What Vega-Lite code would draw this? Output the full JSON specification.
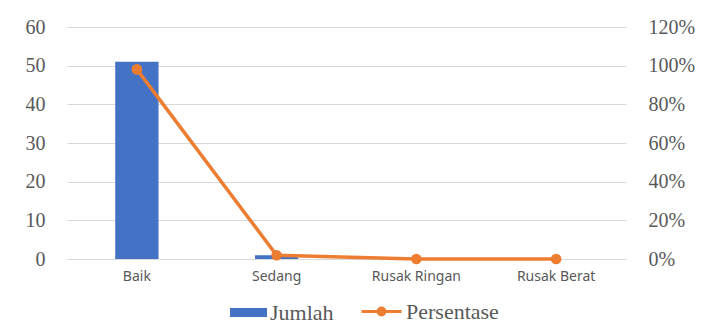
{
  "$schema": "https://vega.github.io/schema/vega-lite/v6.json",
  "width": 559,
  "height": 232,
  "autosize": "none",
  "padding": {"left": 67, "top": 27, "right": 76, "bottom": 77},
  "background": "white",
  "config": {"view": {"stroke": null}},
  "data": {
    "values": [
      {"Kondisi": "Baik", "Jumlah": 51, "Persentase": 0.9808},
      {"Kondisi": "Sedang", "Jumlah": 1, "Persentase": 0.0192},
      {"Kondisi": "Rusak Ringan", "Jumlah": 0, "Persentase": 0},
      {"Kondisi": "Rusak Berat", "Jumlah": 0, "Persentase": 0}
    ]
  },
  "encoding": {
    "x": {
      "field": "Kondisi",
      "type": "nominal",
      "sort": null,
      "title": null,
      "scale": {"paddingInner": 0.69, "paddingOuter": 0.345},
      "axis": {
        "labelAngle": 0,
        "domain": false,
        "ticks": false,
        "labelFont": "Noto Sans",
        "labelFontSize": 14,
        "labelColor": "#595959",
        "labelPadding": 10
      }
    }
  },
  "layer": [
    {
      "mark": {"type": "bar"},
      "encoding": {
        "y": {
          "field": "Jumlah",
          "type": "quantitative",
          "title": null,
          "scale": {"domain": [0, 60]},
          "axis": {
            "values": [0, 10, 20, 30, 40, 50, 60],
            "domain": false,
            "ticks": false,
            "gridColor": "#D9D9D9",
            "gridWidth": 1,
            "labelFont": "Liberation Serif",
            "labelFontSize": 20,
            "labelColor": "#595959",
            "labelPadding": 22
          }
        },
        "fill": {
          "datum": "Jumlah",
          "scale": {"range": ["#4472C4"]},
          "legend": {
            "orient": "none",
            "legendX": 163,
            "legendY": 267,
            "title": null,
            "padding": 0,
            "symbolType": "M-1,-0.24H1V0.24H-1Z",
            "symbolSize": 1369,
            "symbolStrokeWidth": 0,
            "labelFont": "Liberation Serif",
            "labelFontSize": 22,
            "labelColor": "#595959",
            "labelOffset": 3
          }
        }
      }
    },
    {
      "mark": {
        "type": "line",
        "strokeWidth": 3.5,
        "point": {"filled": true, "size": 75, "fill": "#ED7D31"}
      },
      "encoding": {
        "y": {
          "field": "Persentase",
          "type": "quantitative",
          "title": null,
          "scale": {"domain": [0, 1.2]},
          "axis": {
            "orient": "right",
            "values": [0, 0.2, 0.4, 0.6, 0.8, 1.0, 1.2],
            "format": ".0%",
            "grid": false,
            "domain": false,
            "ticks": false,
            "labelFont": "Liberation Serif",
            "labelFontSize": 20,
            "labelColor": "#595959",
            "labelPadding": 22
          }
        },
        "stroke": {
          "datum": "Persentase",
          "scale": {"range": ["#ED7D31"]},
          "legend": {
            "orient": "none",
            "legendX": 293,
            "legendY": 263,
            "title": null,
            "padding": 0,
            "symbolType": "M-1,0H1M0.17,0A0.17,0.17 0 1,1 -0.17,0A0.17,0.17 0 1,1 0.17,0Z",
            "symbolSize": 1600,
            "symbolStrokeWidth": 3,
            "symbolStrokeColor": "#ED7D31",
            "symbolFillColor": "#ED7D31",
            "labelFont": "Liberation Serif",
            "labelFontSize": 22,
            "labelColor": "#595959",
            "labelOffset": 3
          }
        }
      }
    }
  ],
  "resolve": {"scale": {"y": "independent"}}
}
